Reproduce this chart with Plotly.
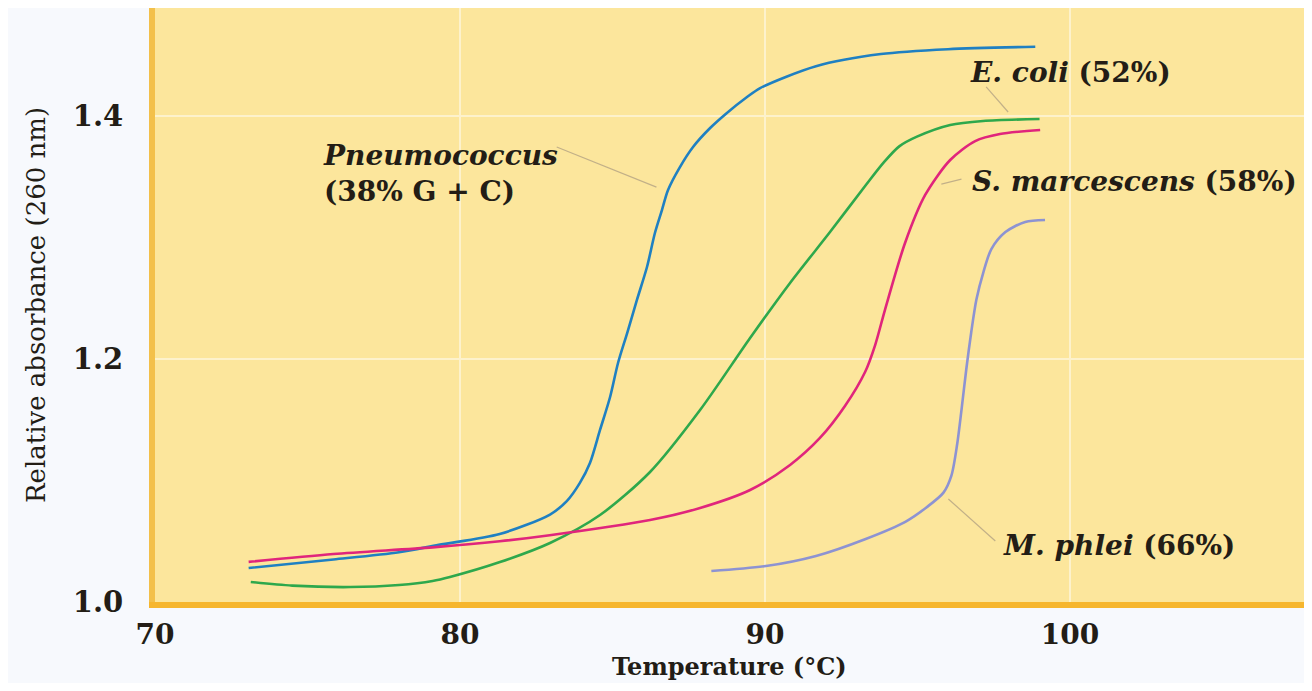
import plotly.graph_objects as go

# ---- data ----
pneumo_t = [73.07, 75.85, 78.0, 79.3, 81.3, 82.95, 83.5, 83.93, 84.26, 84.59, 84.92, 85.18, 85.48, 85.80, 86.13, 86.39,
            86.62, 86.82, 87.21, 87.64, 88.20, 88.75, 89.41, 89.84, 91.67, 93.8, 96.0, 98.86]
pneumo_a = [1.028, 1.035, 1.041, 1.047, 1.056, 1.072, 1.083, 1.098, 1.1144, 1.1416, 1.1687, 1.1967, 1.2214, 1.2486, 1.2757, 1.3037,
            1.3226, 1.3391, 1.358, 1.3745, 1.3901, 1.4025, 1.4156, 1.423, 1.441, 1.451, 1.455, 1.457]

ecoli_t = [73.14, 74.5, 76.4, 78.0, 79.1, 79.67, 81.31, 82.95, 84.59, 86.23, 87.87, 89.51, 90.82, 92.13, 93.3, 93.9,
           94.4, 94.98, 96.07, 97.15, 99.0]
ecoli_a = [1.0165, 1.0135, 1.0123, 1.014, 1.0173, 1.0206, 1.0329, 1.0486, 1.0716, 1.107, 1.158, 1.2173, 1.2626, 1.3045,
           1.343, 1.362, 1.375, 1.383, 1.3926, 1.3959, 1.3975]

smarc_t = [73.07, 75.85, 79.1, 81.3, 82.94, 86.23, 87.87, 89.51, 90.82, 91.80, 92.62, 93.28, 93.61, 93.93, 94.59, 95.25,
           96.07, 96.89, 97.70, 99.02]
smarc_a = [1.033, 1.0395, 1.045, 1.050, 1.055, 1.0675, 1.0774, 1.0922, 1.1128, 1.135, 1.1613, 1.1893, 1.2115, 1.2403, 1.2955,
           1.335, 1.3638, 1.3794, 1.3852, 1.3885]

mphlei_t = [88.24, 90.03, 91.67, 93.3, 94.6, 95.3, 95.85, 96.11, 96.3, 96.45, 96.6, 96.76, 96.93, 97.16, 97.42, 97.88, 98.53,
            99.18]
mphlei_a = [1.0255, 1.0296, 1.0379, 1.0519, 1.066, 1.078, 1.090, 1.104, 1.130, 1.160, 1.192, 1.222, 1.249, 1.2716, 1.2905,
            1.3045, 1.3128, 1.3144]

series_names = ["Pneumococcus", "E. coli", "S. marcescens", "M. phlei"]
series_colors = ["#1f80c2", "#2ea84c", "#e0257c", "#8d93d2"]

labels_text = [
    "<b><i>Pneumococcus</i></b><br><b>(38% G + C)</b>",
    "<b><i>E. coli</i> (52%)</b>",
    "<b><i>S. marcescens</i> (58%)</b>",
    "<b><i>M. phlei</i> (66%)</b>",
]
labels_t = [75.45, 96.65, 96.72, 97.75]
labels_a = [1.3527, 1.4362, 1.3457, 1.0469]

leader_t0 = [83.17, 97.25, 96.44, 96.01]
leader_a0 = [1.3745, 1.4239, 1.348, 1.0848]
leader_t1 = [86.44, 97.97, 95.78, 97.55]
leader_a1 = [1.3415, 1.4033, 1.344, 1.0502]

x_ticks = [70, 80, 90, 100]
y_ticks = [1.0, 1.2, 1.4]

FONT = "DejaVu Serif"
TEXT = "#231d16"

fig = go.Figure()

# leader lines
for i in range(4):
    fig.add_trace(go.Scatter(
        x=[leader_t0[i], leader_t1[i]], y=[leader_a0[i], leader_a1[i]],
        mode="lines", line=dict(color="#c2b088", width=1.2),
        hoverinfo="skip", showlegend=False))

curves = [(pneumo_t, pneumo_a), (ecoli_t, ecoli_a), (smarc_t, smarc_a), (mphlei_t, mphlei_a)]
for (t, a), name, col in zip(curves, series_names, series_colors):
    fig.add_trace(go.Scatter(
        x=t, y=a, mode="lines", name=name,
        line=dict(color=col, width=2.6, shape="spline", smoothing=0.8),
        showlegend=False))

for txt, tx, ty in zip(labels_text, labels_t, labels_a):
    fig.add_annotation(x=tx, y=ty, text=txt, showarrow=False,
                       xanchor="left", yanchor="middle", align="left",
                       font=dict(family=FONT, size=28, color=TEXT))

# x-axis title placed below the tick labels
fig.add_annotation(xref="paper", yref="paper", x=0.5, y=0, yshift=-48,
                   xanchor="center", yanchor="top", showarrow=False,
                   text="<b>Temperature (°C)</b>",
                   font=dict(family=FONT, size=24, color=TEXT))

fig.update_layout(
    width=1296, height=675,
    margin=dict(l=147, r=0, t=0, b=81),
    paper_bgcolor="#f7f9fd",
    plot_bgcolor="#fce69c",
    showlegend=False,
)

fig.update_xaxes(
    range=[70.0, 107.67],
    tickvals=x_ticks, ticktext=[str(v) for v in x_ticks],
    showgrid=True, gridcolor="#fdf2cc", gridwidth=2,
    showline=True, linecolor="#f6b62e", linewidth=6,
    zeroline=False, ticks="", ticklabelstandoff=2,
    tickfont=dict(family=FONT, size=28, color=TEXT, weight="bold"),
)
fig.update_yaxes(
    range=[1.0, 1.4889],
    tickvals=y_ticks, ticktext=["1.0", "1.2", "1.4"],
    showgrid=True, gridcolor="#fdf2cc", gridwidth=2,
    showline=True, linecolor="#f3c04a", linewidth=6,
    zeroline=False, ticks="", ticklabelstandoff=20,
    tickfont=dict(family=FONT, size=29, color=TEXT, weight="bold"),
    title=dict(text="Relative absorbance (260 nm)", standoff=22,
               font=dict(family=FONT, size=26, color=TEXT)),
)

fig.write_html("out.html")
